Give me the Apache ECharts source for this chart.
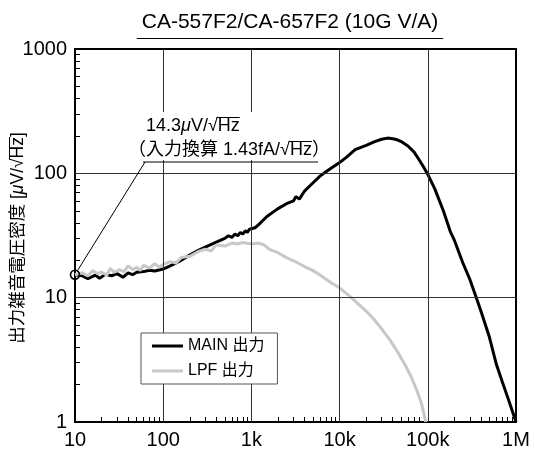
<!doctype html>
<html>
<head>
<meta charset="utf-8">
<title>CA-557F2/CA-657F2 noise density</title>
<script src="https://cdn.jsdelivr.net/npm/echarts@6/dist/echarts.min.js"></script>
<style>
html, body { margin: 0; padding: 0; background: #fff; }
#main { width: 535px; height: 450px; }
</style>
</head>
<body>
<div id="main"></div>
<script>
var FONT = '"Liberation Sans", Arial, "Noto Sans CJK JP", sans-serif';

// MAIN output (black), frequency [Hz] / noise density [uV/rtHz]
var mainFreq = [10, 12, 14, 17, 19, 22, 26, 30, 35, 40, 45, 50, 60, 70, 80, 100,
    120, 150, 200, 250, 300, 400, 500, 550, 600, 650, 700, 750, 800, 850, 900, 950,
    1000, 1100, 1200, 1500, 2000, 2500, 3000, 3200, 3500, 4000, 5000, 6000, 7000, 8000,
    10000, 12000, 15000, 20000, 25000, 30000, 35000, 40000, 45000, 50000, 60000, 70000,
    80000, 90000, 100000, 120000, 150000, 180000, 200000, 250000, 300000, 355000,
    400000, 500000, 600000, 700000, 800000, 900000, 1000000];
var mainVal = [15.3, 15.0, 14.2, 15.2, 14.3, 15.4, 15.0, 15.6, 14.6, 15.8, 15.3, 16.0, 16.2, 16.6, 16.4, 17.0,
    18.0, 19.5, 22, 24, 25.5, 28, 30, 31.5, 30.5, 32.5, 31.5, 33.5, 32.5, 34.5, 33.5, 35.5,
    34.5, 36.5, 38.5, 45, 52, 57, 60, 65, 62, 72, 84, 95, 103, 110,
    122, 135, 155, 168, 180, 188, 192, 190, 186, 180, 165, 148,
    128, 112, 98, 75, 50, 34, 29, 19, 14, 10,
    7.8, 4.8, 2.9, 2.1, 1.6, 1.25, 1.0];

// LPF output (grey)
var lpfFreq = [10, 12, 14, 16, 18, 20, 23, 25, 28, 32, 36, 40, 45, 50, 55, 60, 70, 80, 90,
    100, 120, 140, 160, 200, 250, 300, 350, 400, 500, 600, 700, 800, 1000, 1200, 1400,
    1600, 2000, 2500, 3000, 4000, 5000, 6000, 8000, 10000, 13000, 16000, 20000, 25000,
    30000, 37000, 45000, 55000, 65000, 75000, 85000, 95000];
var lpfVal = [15.3, 15.8, 15.0, 16.5, 15.6, 16.0, 15.2, 17.2, 16.0, 16.8, 16.2, 18.0, 16.8, 17.5, 16.6, 18.2, 17.3, 18.8, 17.6,
    18.5, 19.5, 19.0, 21.0, 21.5, 23.5, 24.5, 23.8, 26.5, 26.0, 27.5, 27.0, 27.8, 27.0, 27.5, 26.5,
    24.5, 23, 21, 19.8, 17.8, 16.5, 15.2, 13.2, 12, 10.3, 9, 7.8, 6.6,
    5.6, 4.6, 3.7, 2.9, 2.3, 1.8, 1.4, 1.0];

var xTickLabels = { 10: '10', 100: '100', 1000: '1k', 10000: '10k', 100000: '100k', 1000000: '1M' };
var xDecades = [10, 100, 1000, 10000, 100000];
var yDecades = [1, 10, 100];
var xGrid = [100, 1000, 10000, 100000];
var yGrid = [10, 100];
var minorMult = [2, 3, 4, 5, 6, 7, 8, 9];
var markPointXY = [10, 15.3];

var titleText = 'CA-557F2/CA-657F2 (10G V/A)';
var seriesNames = ['MAIN 出力', 'LPF 出力'];

var xMinor = [], yMinor = [];
xDecades.forEach(function (d) { minorMult.forEach(function (m) { xMinor.push(d * m); }); });
yDecades.forEach(function (d) { minorMult.forEach(function (m) { yMinor.push(d * m); }); });

function pairs(xs, ys) {
    return xs.map(function (x, i) { return [x, ys[i]]; });
}

var mctx = document.createElement('canvas').getContext('2d');
function tw(s, size, italic) {
    mctx.font = (italic ? 'italic ' : '') + size + 'px ' + FONT;
    return mctx.measureText(s).width;
}

// decade grid lines (axis ticks are used for the 2..9 minor marks instead)
var gridLines = xGrid.map(function (v) { return { xAxis: v }; })
    .concat(yGrid.map(function (v) { return { yAxis: v }; }));

var myChart = echarts.init(document.getElementById('main'));

var option = {
    animation: false,
    grid: {
        left: 75, right: 19, top: 49, bottom: 26,
        show: true, borderColor: '#000', borderWidth: 2, backgroundColor: 'transparent'
    },
    legend: {
        data: seriesNames,
        orient: 'vertical',
        left: 141, top: 333,
        padding: [5, 13, 5, 11],
        itemGap: 9,
        itemWidth: 31, itemHeight: 3,
        icon: 'rect',
        backgroundColor: '#fff',
        borderColor: '#555', borderWidth: 1,
        textStyle: { fontSize: 16, color: '#000', fontFamily: FONT },
        z: 20
    },
    xAxis: {
        type: 'log', logBase: 10, min: 10, max: 1000000,
        axisLine: { show: true, lineStyle: { color: '#000', width: 2 } },
        axisTick: { show: true, inside: true, length: 5, customValues: xMinor, lineStyle: { color: '#000', width: 1 } },
        axisLabel: {
            color: '#000', fontSize: 20, fontFamily: FONT, margin: 8,
            formatter: function (v) { return xTickLabels[Math.round(v)] || ''; }
        },
        splitLine: { show: false }
    },
    yAxis: {
        type: 'log', logBase: 10, min: 1, max: 1000,
        axisLine: { show: true, lineStyle: { color: '#000', width: 2 } },
        axisTick: { show: true, inside: true, length: 5, customValues: yMinor, lineStyle: { color: '#000', width: 1 } },
        axisLabel: {
            color: '#000', fontSize: 20, fontFamily: FONT, margin: 8,
            formatter: function (v) { return String(Math.round(v)); }
        },
        splitLine: { show: false }
    },
    series: [
        {
            name: seriesNames[0], type: 'line', symbol: 'none', z: 3,
            data: pairs(mainFreq, mainVal),
            lineStyle: { color: '#000', width: 3 },
            itemStyle: { color: '#000' },
            markLine: {
                silent: true, symbol: ['none', 'none'], animation: false,
                label: { show: false },
                lineStyle: { type: 'solid', color: '#333', width: 1 },
                data: gridLines
            },
            markPoint: {
                symbol: 'circle', symbolSize: 9, silent: true,
                itemStyle: { color: 'rgba(0,0,0,0)', borderColor: '#000', borderWidth: 1.6 },
                label: { show: false },
                data: [{ coord: markPointXY }]
            }
        },
        {
            name: seriesNames[1], type: 'line', symbol: 'none', z: 4,
            data: pairs(lpfFreq, lpfVal),
            lineStyle: { color: '#c8c8c8', width: 3 },
            itemStyle: { color: '#c8c8c8' }
        }
    ]
};

myChart.setOption(option);

function px(v) { return myChart.convertToPixel({ xAxisIndex: 0, yAxisIndex: 0 }, v); }

var g = [];
function seg(x1, y1, x2, y2) {
    g.push({ type: 'line', z: 11, silent: true, shape: { x1: x1, y1: y1, x2: x2, y2: y2 }, style: { stroke: '#000', lineWidth: 1 } });
}

// annotation: white box hides the grid lines behind the text
g.push({ type: 'rect', z: 10, silent: true, shape: { x: 136, y: 112, width: 186, height: 48 }, style: { fill: '#fff' } });

var c = px(markPointXY);
var fs = 18;
var l1x = 146, l1y = 126, l2x = 128, l2y = 150;
var ulY = 162, ulX1 = 143, ulX2 = 318;
var hz1 = l1x + tw('14.3', fs) + tw('μ', fs, true) + tw('V/√', fs);
var hz2 = l2x + tw('（入力換算 1.43fA/√', fs);
var hzW = tw('Hz', fs);

g.push({ type: 'text', z: 11, silent: true, style: {
    x: l1x, y: l1y, text: '{a|14.3}{i|μ}{a|V/√Hz}', verticalAlign: 'middle',
    rich: { a: { fontSize: fs, fontFamily: FONT, fill: '#000' }, i: { fontSize: fs, fontFamily: FONT, fontStyle: 'italic', fill: '#000' } }
} });
seg(hz1 - 1, l1y - 8.5, hz1 + hzW, l1y - 8.5);
g.push({ type: 'text', z: 11, silent: true, style: {
    x: l2x, y: l2y, text: '（入力換算 1.43fA/√Hz）', verticalAlign: 'middle',
    fontSize: fs, fontFamily: FONT, fill: '#000'
} });
seg(hz2 - 1, l2y - 8.5, hz2 + hzW, l2y - 8.5);
seg(ulX1, ulY, ulX2, ulY);
var dx = ulX1 + 2 - c[0], dy = ulY - c[1], dl = Math.sqrt(dx * dx + dy * dy);
seg(c[0] + dx / dl * 4.5, c[1] + dy / dl * 4.5, ulX1 + 2, ulY);

// title
var tfs = 21, tx = 290, ty = 22;
var tW = tw(titleText, tfs);
g.push({ type: 'text', z: 11, silent: true, style: {
    x: tx, y: ty, text: titleText, align: 'center', verticalAlign: 'middle',
    fontSize: tfs, fontFamily: FONT, fill: '#000'
} });
seg(tx - tW / 2 - 5, 38.5, tx + tW / 2 + 5, 38.5);

// y axis name
var yfs = 17.5;
var yPre = '出力雑音電圧密度 [';
var yW = tw(yPre, yfs) + tw('μ', yfs, true) + tw('V/√Hz]', yfs);
var yHz = -yW / 2 + tw(yPre, yfs) + tw('μ', yfs, true) + tw('V/√', yfs);
g.push({
    type: 'group', x: 18, y: 238, rotation: Math.PI / 2, silent: true,
    children: [
        { type: 'text', z: 11, style: {
            x: -yW / 2, y: 0, text: '{a|' + yPre + '}{i|μ}{a|V/√Hz]}', verticalAlign: 'middle',
            rich: { a: { fontSize: yfs, fontFamily: FONT, fill: '#000' }, i: { fontSize: yfs, fontFamily: FONT, fontStyle: 'italic', fill: '#000' } }
        } },
        { type: 'line', z: 11, shape: { x1: yHz - 1, y1: -8.5, x2: yHz + tw('Hz', yfs), y2: -8.5 }, style: { stroke: '#000', lineWidth: 1 } }
    ]
});

myChart.setOption({ graphic: g });
</script>
</body>
</html>
